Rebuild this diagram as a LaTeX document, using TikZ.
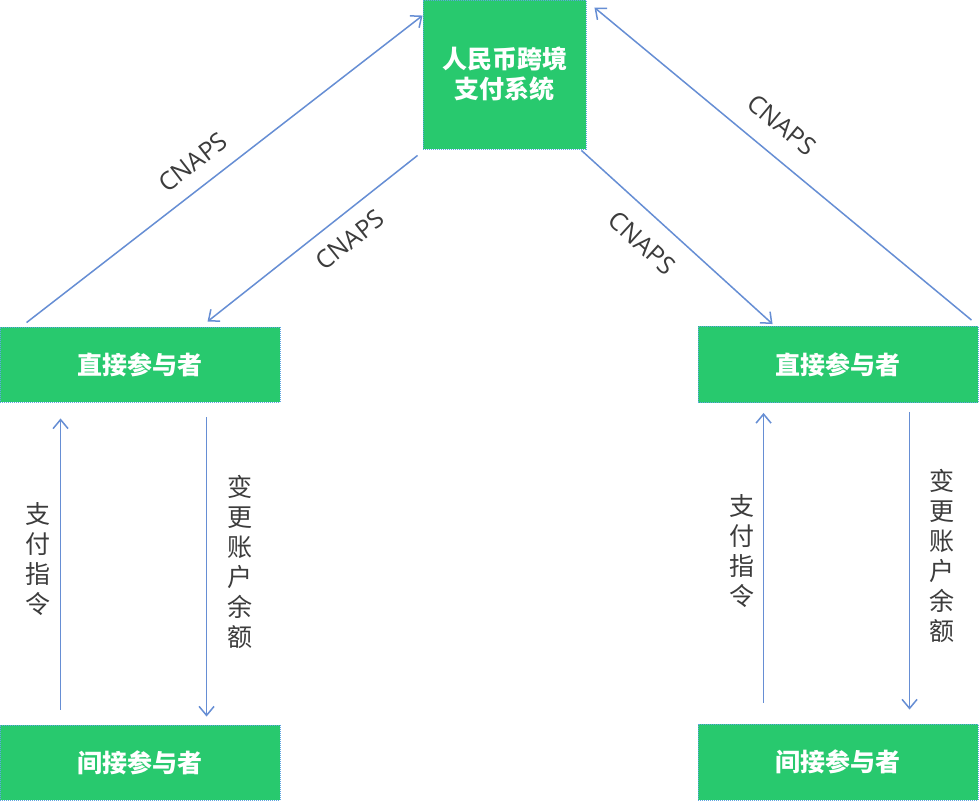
\documentclass[tikz,border=0pt]{standalone}
\usepackage{fontspec}
\newfontfamily\cjk{Noto Sans CJK SC}
\newfontfamily\latinfont{Open Sans}
\usetikzlibrary{arrows.meta,calc}
\definecolor{boxgreen}{RGB}{40,201,110}
\definecolor{boxborder}{RGB}{95,165,225}
\definecolor{arrowblue}{RGB}{102,142,212}
\definecolor{labelgray}{RGB}{60,60,60}
\tikzset{
  greenbox/.style={draw=boxborder, line width=0.9pt, dash pattern=on 1pt off 1pt, fill=boxgreen,
    text=white, font=\cjk\bfseries\fontsize{25}{30}\selectfont, align=center, inner sep=0pt},
  flow/.style={draw=arrowblue, line width=1.5pt, -{Straight Barb[length=9pt,width=15pt,line width=1.5pt]}},
  cnaps/.style={text=labelgray, font=\latinfont\fontsize{25}{30}\selectfont, inner sep=0pt},
  vlabel/.style={text=labelgray, font=\cjk\fontsize{25}{30}\selectfont, align=center, inner sep=0pt}
}
\begin{document}
\begin{tikzpicture}[x=1pt,y=-1pt]
\useasboundingbox (0,0) rectangle (980,802);
\fill[white] (0,0) rectangle (980,802);
% boxes
\node[greenbox, minimum width=163pt, minimum height=149pt] (top) at (504.5,74.5) {人民币跨境\\支付系统};
\node[greenbox, minimum width=280pt, minimum height=75pt] (ld) at (140,364.5) {直接参与者};
\node[greenbox, minimum width=280pt, minimum height=75pt] (li) at (140,762.5) {间接参与者};
\node[greenbox, minimum width=280pt, minimum height=76pt] (rd) at (838,364.5) {直接参与者};
\node[greenbox, minimum width=280pt, minimum height=76pt] (ri) at (838,762) {间接参与者};
% diagonal connectors
\draw[flow] ($(ld.north west)+(27,-4)$) -- ($(top.north west)+(0,16)$);
\draw[flow] ($(top.south west)+(-5,6)$) -- ($(ld.north west)+(208,-5)$);
\draw[flow] ($(top.south east)+(-5,1)$) -- ($(rd.north west)+(75,-2)$);
\draw[flow] ($(rd.north east)+(-7,-6)$) -- ($(top.north east)+(8,8)$);
% vertical connectors
\draw[flow] ($(li.north west)+(61,-15)$) -- ($(ld.south west)+(61,16)$);
\draw[flow] ($(ld.south west)+(207,15)$) -- ($(li.north west)+(207,-8)$);
\draw[flow] ($(ri.north west)+(66,-21)$) -- ($(rd.south west)+(66,10)$);
\draw[flow] ($(rd.south west)+(212,9)$) -- ($(ri.north west)+(212,-14)$);
% labels
\node[cnaps, rotate=37.8] (c1) at (193,162) {CNAPS};
\node[cnaps, rotate=38.5] (c2) at (350,240) {CNAPS};
\node[cnaps, rotate=-42.3] (c3) at (642,243) {CNAPS};
\node[cnaps, rotate=-39.8] (c4) at (782,125) {CNAPS};
\node[vlabel] (l1) at (38,559) {支\\付\\指\\令};
\node[vlabel] (l2) at (240,562) {变\\更\\账\\户\\余\\额};
\node[vlabel] (l3) at (742,551) {支\\付\\指\\令};
\node[vlabel] (l4) at (942,556) {变\\更\\账\\户\\余\\额};
\end{tikzpicture}
\end{document}
